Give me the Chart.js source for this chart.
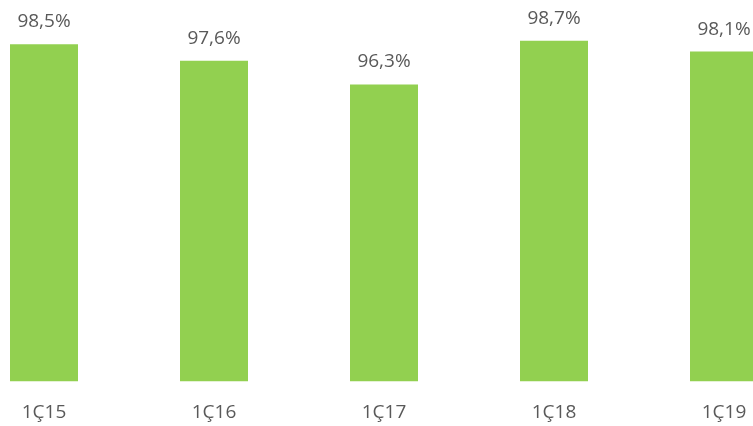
<!DOCTYPE html>
<html>
<head>
<meta charset="utf-8">
<script src="https://cdn.jsdelivr.net/npm/chart.js@4/dist/chart.umd.min.js"></script>
<style>
  html, body { margin: 0; padding: 0; background: #fff; overflow: hidden; }
  #wrap { position: absolute; left: -41px; top: 0; width: 850px; height: 436px; }
</style>
</head>
<body>
<div id="wrap"><canvas id="chart"></canvas></div>
<script>
// quarters and values (%)
const quarters = ['1Ç15', '1Ç16', '1Ç17', '1Ç18', '1Ç19'];
const values = [98.5, 97.6, 96.3, 98.7, 98.1];
const valueLabels = ['98,5%', '97,6%', '96,3%', '98,7%', '98,1%'];

const textColor = '#595959';
const fontFamily = '"Open Sans", "Noto Sans", sans-serif';

// value labels above bars
const barLabels = {
    id: 'barLabels',
    afterDatasetsDraw(chart) {
        const c = chart.ctx;
        const meta = chart.getDatasetMeta(0);
        c.save();
        c.fillStyle = textColor;
        c.font = '19px ' + fontFamily;
        c.textAlign = 'center';
        c.textBaseline = 'alphabetic';
        meta.data.forEach((bar, i) => {
            c.fillText(valueLabels[i], bar.x, bar.y - 17);
        });
        c.restore();
    }
};

new Chart(document.getElementById('chart'), {
    type: 'bar',
    data: {
        labels: quarters,
        datasets: [{
            data: values,
            backgroundColor: '#92D050',
            borderWidth: 0,
            categoryPercentage: 1,
            barPercentage: 0.4
        }]
    },
    options: {
        responsive: true,
        maintainAspectRatio: false,
        animation: false,
        layout: { padding: { top: 17, bottom: 0, left: 0, right: 0 } },
        plugins: {
            legend: { display: false },
            tooltip: { enabled: false }
        },
        scales: {
            y: {
                display: false,
                min: 80,
                max: 100
            },
            x: {
                grid: { display: false },
                border: { display: false },
                ticks: {
                    color: textColor,
                    font: { family: fontFamily, size: 19 },
                    padding: 12
                }
            }
        }
    },
    plugins: [barLabels]
});
</script>
</body>
</html>
